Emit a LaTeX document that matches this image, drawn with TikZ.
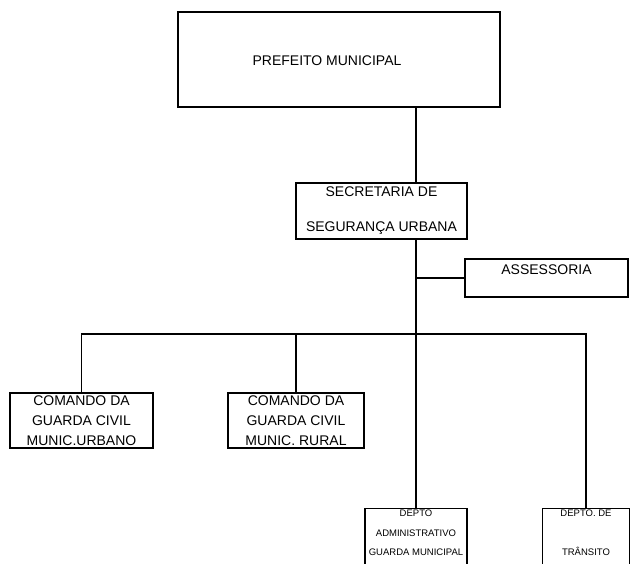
\documentclass[tikz,border=0pt]{standalone}
\usepackage{fontspec}
\setmainfont{Liberation Sans}
\begin{document}
\begin{tikzpicture}[x=1pt,y=-1pt,
    caixa/.style={draw=black,line width=1.2pt,inner sep=0pt,align=center,font=\fontsize{14}{20}\selectfont},
    rotulo/.style={inner sep=0pt,align=center,font=\fontsize{14}{20}\selectfont},
    liga/.style={draw=black,line width=1.2pt}]
  \useasboundingbox (0,0) rectangle (630,563);
  \node[caixa,minimum width=322pt,minimum height=95pt,
        label={[rotulo,xshift=-12pt,yshift=-1.5pt]center:PREFEITO MUNICIPAL}] (prefeito) at (339,59.5) {};
  \node[caixa,minimum width=171pt,minimum height=56pt,font=\fontsize{14}{35}\selectfont] (secretaria) at (381.5,211) {SECRETARIA DE\\SEGURANÇA URBANA};
  \node[caixa,minimum width=163pt,minimum height=38pt,
        label={[rotulo,anchor=north,yshift=-6pt]north:ASSESSORIA}] (assessoria) at (546.5,278) {};
  \node[caixa,minimum width=143pt,minimum height=55pt,text depth=-2pt] (urbano) at (81.5,420.5) {COMANDO DA\\GUARDA CIVIL\\MUNIC.URBANO};
  \node[caixa,minimum width=136pt,minimum height=55pt,text depth=-2pt] (rural) at (296,420.5) {COMANDO DA\\GUARDA CIVIL\\MUNIC. RURAL};
  \node[caixa,anchor=north,minimum width=102pt,minimum height=70pt,
        label={[rotulo,anchor=north,yshift=-2pt,font=\fontsize{9.5}{19.5}\selectfont]north:DEPTO\\ADMINISTRATIVO\\GUARDA MUNICIPAL}] (admin) at (416,508) {};% Depto. administrativo
  \node[caixa,anchor=north,minimum width=87pt,minimum height=70pt,
        label={[rotulo,anchor=north,yshift=-2pt,font=\fontsize{9.5}{39}\selectfont]north:DEPTO. DE\\TRÂNSITO}] (transito) at (586,508) {};% Depto. de transito
  \coordinate (barra) at (0,334);
  \draw[liga] (prefeito.south -| admin) -- (secretaria.north -| admin);
  \draw[liga] (secretaria.south -| admin) -- (admin.north);
  \draw[liga] (assessoria.west) -- (assessoria.west -| admin);
  \draw[liga] (urbano.north) -- (urbano.north |- barra) -- (transito.north |- barra) -- (transito.north);
  \draw[liga] (rural.north) -- (rural.north |- barra);
\end{tikzpicture}
\end{document}
